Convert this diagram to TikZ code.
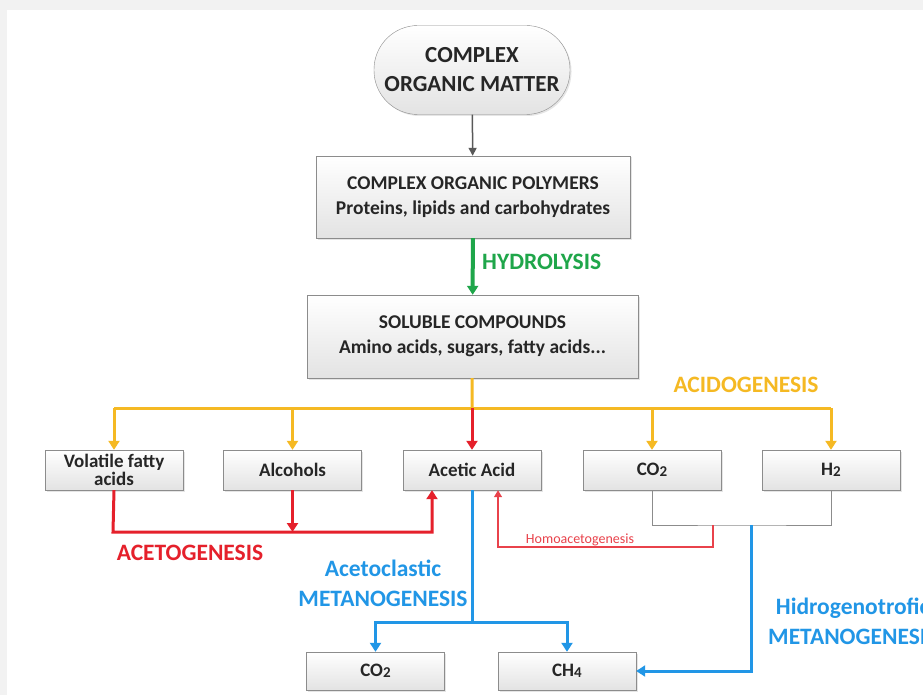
\documentclass[tikz,border=0pt]{standalone}
\usepackage{fontspec}
\setmainfont{Carlito}
\usepackage{tikz}
\usetikzlibrary{arrows.meta,positioning,calc,shadows}
\definecolor{ADyellow}{HTML}{F5B923}
\definecolor{ADred}{HTML}{E5202B}
\definecolor{ADgreen}{HTML}{1FA64A}
\definecolor{ADblue}{HTML}{2196E6}
\definecolor{ADgray}{HTML}{595959}
\newcommand{\chemsub}[1]{\raisebox{-1.5pt}{\fontsize{15}{15}\selectfont #1}}
\tikzset{
  stage/.style={draw=black!45, top color=white, bottom color=black!11, align=center,
    font=\bfseries\fontsize{19.5}{25}\selectfont, text=black!85, inner sep=2pt,
    drop shadow={opacity=0.2, shadow xshift=1.5pt, shadow yshift=-1.5pt}},
  bigstage/.style={stage, minimum height=82pt},
  smallstage/.style={stage, minimum width=138pt, minimum height=40pt, font=\bfseries\fontsize{19}{16}\selectfont},
  startnode/.style={stage, rounded corners=44pt, minimum width=196pt, minimum height=89pt,
    font=\bfseries\fontsize{23}{29}\selectfont},
  phase/.style={font=\bfseries\fontsize{23.5}{30}\selectfont, inner sep=0pt, align=center},
  arr/.style={-{Triangle[length=9pt,width=11pt]}},
  smallarr/.style={-{Triangle[length=7pt,width=8pt]}},
  yl/.style={ADyellow, line width=3pt},
  rd/.style={ADred, line width=3pt},
  bl/.style={ADblue, line width=3pt},
  hom/.style={ADred!85, line width=1.3pt},
  bracket/.style={black!45, line width=1pt}
}
\begin{document}
\begin{tikzpicture}[x=1pt, y=-1pt]
\useasboundingbox (0,0) rectangle (923,695);
\clip (0,0) rectangle (923,695);
\fill[black!5] (0,0) rectangle (923,695);
\fill[white] (7,10) rectangle (923,695);
% top of the chain
\node[startnode] (com) at (472,70) {COMPLEX\\ORGANIC MATTER};
\node[bigstage, minimum width=314pt] (poly) at (473,197) {COMPLEX ORGANIC POLYMERS\\Proteins, lipids and carbohydrates};
\node[bigstage, minimum width=331pt, minimum height=83pt] (sol) at (472.5,336.5) {SOLUBLE COMPOUNDS\\Amino acids, sugars, fatty acids...};
% products
\node[smallstage] (vfa) at (114,470) {Volatile fatty\\acids};
\node[smallstage] (alc) at (292.5,470) {Alcohols};
\node[smallstage] (ace) at (472,470) {Acetic Acid};
\node[smallstage] (co2a) at (652,470) {CO\chemsub{2}};
\node[smallstage] (h2) at (831,470) {H\chemsub{2}};
\node[smallstage, minimum height=38pt] (co2b) at (375.5,671) {CO\chemsub{2}};
\node[smallstage, minimum height=38pt] (ch4) at (567,671) {CH\chemsub{4}};
% junctions
\coordinate (ya) at (472,408);
\coordinate (agl) at (113,532);
\coordinate (agr) at (432,532);
\coordinate (bk) at (742,525);
\coordinate (hm) at (713,525);
\coordinate (hl) at (498,547);
\coordinate (bs) at (472,622);
\coordinate (hb) at (751,525);
% connectors
\draw[arr, ADgray, line width=1.5pt, -{Triangle[length=8pt,width=8pt]}] (com) -- (poly);
\draw[arr, ADgreen, line width=4pt] (poly) -- (sol);
\draw[yl] (sol) -- (ya);
\draw[yl] (vfa.north |- ya) -- (h2.north |- ya);
\draw[yl, arr] (vfa.north |- ya) -- (vfa);
\draw[yl, arr] (alc.north |- ya) -- (alc);
\draw[yl, arr] (co2a.north |- ya) -- (co2a);
\draw[yl, arr] (h2.north |- ya) -- (h2);
\draw[rd, arr] (ya) -- (ace);
\draw[rd, arr] (vfa.south) -- (agl) -- (agr) -- (agr |- ace.south);
\draw[rd, arr] (alc) -- (alc.south |- agl);
\draw[bracket] (co2a.south) |- (bk) -| (h2.south);
\draw[hom, smallarr] (hm) |- (hl) -- (hl |- ace.south);
\draw[bl] (ace) -- (bs);
\draw[bl, arr] (bs) -| (co2b);
\draw[bl, arr] (bs) -| (ch4);
\draw[bl, arr] (hb) |- (ch4);
% phase labels
\node[phase, text=ADgreen, anchor=west] (hyd) at (482,262) {HYDROLYSIS};
\node[phase, text=ADyellow] (acid) at (746,385) {ACIDOGENESIS};
\node[phase, text=ADred] (acet) at (190,553) {ACETOGENESIS};
\node[font=\fontsize{14}{14}\selectfont, text=ADred!85, inner sep=0pt] (homl) at (580,540) {Homoacetogenesis};
\node[phase, text=ADblue] (acl) at (383,583) {Acetoclastic\\METANOGENESIS};
\node[phase, text=ADblue, anchor=west] (hyl) at (768,621) {Hidrogenotrofic\\METANOGENESIS};
\end{tikzpicture}
\end{document}
